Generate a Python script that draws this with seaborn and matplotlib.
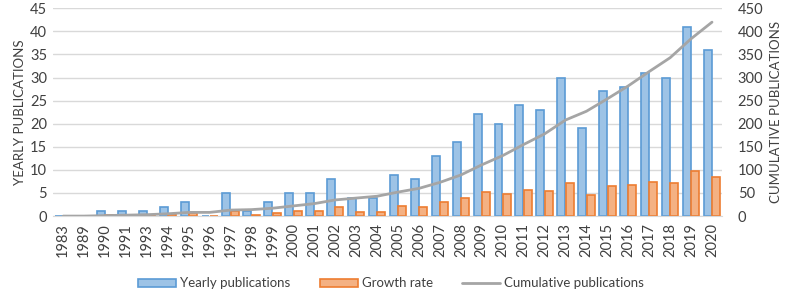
import matplotlib.pyplot as plt
import seaborn as sns
import pandas as pd
import numpy as np

years = ["1983", "1989", "1990", "1991", "1993", "1994", "1995", "1996",
         "1997", "1998", "1999", "2000", "2001", "2002", "2003", "2004",
         "2005", "2006", "2007", "2008", "2009", "2010", "2011", "2012",
         "2013", "2014", "2015", "2016", "2017", "2018", "2019", "2020"]

yearly = [0, 0, 1, 1, 1, 2, 3, 0, 5, 1, 3, 5, 5, 8, 4, 4,
          9, 8, 13, 16, 22, 20, 24, 23, 30, 19, 27, 28, 31, 30, 41, 36]

growth = [0, 0, 0.24, 0.24, 0.24, 0.48, 0.71, 0, 1.19, 0.24, 0.71, 1.19,
          1.19, 1.90, 0.95, 0.95, 2.14, 1.90, 3.10, 3.81, 5.24, 4.76, 5.71,
          5.48, 7.14, 4.52, 6.43, 6.67, 7.38, 7.14, 9.76, 8.57]

cumulative = [0, 0, 1, 2, 3, 5, 8, 8, 13, 14, 17, 22, 27, 35, 39, 43,
              52, 60, 73, 89, 111, 131, 155, 178, 208, 227, 254, 282, 313,
              343, 384, 420]

sns.set_style("white")
plt.rcParams['font.family'] = ['Lato', 'DejaVu Sans']
txt = '#404040'

df = pd.DataFrame({
    "year": years * 2,
    "value": yearly + growth,
    "series": ["Yearly publications"] * len(years) + ["Growth rate"] * len(years),
})

fig, ax = plt.subplots(figsize=(7.87, 2.96), dpi=100)
fig.subplots_adjust(left=0.067, right=0.918, top=0.972, bottom=0.27)

sns.barplot(data=df, x="year", y="value", hue="series", ax=ax,
            palette=["#9dc3e6", "#f4b183"], width=0.8, gap=0.05,
            linewidth=1.2, saturation=1, legend=False)
for cont, ec in zip(ax.containers, ["#5b9bd5", "#ed7d31"]):
    for p in cont:
        p.set_edgecolor(ec)

ax.set_ylim(0, 45)
ax.set_yticks(range(0, 46, 5))
ax.set_xlim(-0.5, len(years) - 0.5)
ax.yaxis.grid(True, color="#d9d9d9", lw=1)
ax.set_axisbelow(True)
ax.set_xlabel("")
ax.set_ylabel("YEARLY PUBLICATIONS", fontsize=9.5, color=txt, labelpad=3)
ax.tick_params(axis="x", rotation=90, labelsize=10.5, colors=txt, length=0, pad=5)
ax.tick_params(axis="y", labelsize=10.5, colors=txt, length=0, pad=4)
for s in ax.spines.values():
    s.set_visible(False)
ax.spines["bottom"].set_visible(True)
ax.spines["bottom"].set_color("#d9d9d9")

ax2 = ax.twinx()
sns.lineplot(x=np.arange(len(years)), y=cumulative, ax=ax2, color="#a5a5a5",
             lw=2, legend=False)
ax2.set_ylim(0, 450)
ax2.set_yticks(range(0, 451, 50))
ax2.set_ylabel("CUMULATIVE PUBLICATIONS", fontsize=9.5, color=txt, labelpad=5)
ax2.tick_params(axis="y", labelsize=10.5, colors=txt, length=0, pad=11)
ax2.grid(False)
for s in ax2.spines.values():
    s.set_visible(False)
ax2.set_xlim(-0.5, len(years) - 0.5)

handles = [ax.containers[0][0], ax.containers[1][0], ax2.lines[0]]
labels = ["Yearly publications", "Growth rate", "Cumulative publications"]
fig.legend(handles, labels, loc="lower center", ncol=3, frameon=False,
           fontsize=9.5, labelcolor=txt, bbox_to_anchor=(0.497, -0.018),
           handlelength=2.9, handleheight=0.6, columnspacing=2.2,
           handletextpad=0.3)

plt.savefig("out.png", dpi=100)
